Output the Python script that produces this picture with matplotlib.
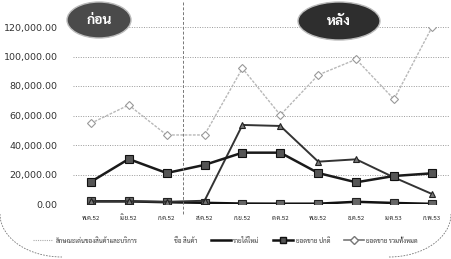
import matplotlib
matplotlib.use("Agg")
import matplotlib.pyplot as plt
from matplotlib.patches import Ellipse, Arc
from matplotlib.ticker import FuncFormatter
import matplotlib.lines as mlines

THAI = ["Sarabun", "Noto Sans Thai", "Bai Jamjuree", "DejaVu Sans"]
plt.rcParams["font.family"] = THAI

# months (Thai abbreviations)
months = ["พ.ค.52", "มิ.ย.52", "ก.ค.52", "ส.ค.52", "ก.ย.52",
          "ต.ค.52", "พ.ย.52", "ธ.ค.52", "ม.ค.53", "ก.พ.53"]

# series values
total_sales = [54700, 67100, 46800, 46800, 92000, 60300, 87500, 98100, 71000, 119800]
normal_sales = [15000, 30500, 21000, 26500, 34800, 34800, 21000, 14700, 19000, 20800]
new_income = [1800, 1800, 1500, 2200, 53600, 52900, 28700, 30300, 18000, 6800]
other_cost = [1800, 1800, 1200, 800, 300, 200, 200, 1500, 700, 100]

legend_names = ["ลักษณะเด่นของสินค้าและบริการ", "ชื่อ สินค้า",
                "รายได้ใหม่", "ยอดขาย ปกติ", "ยอดขาย รวมทั้งหมด"]
yticks = [0, 20000, 40000, 60000, 80000, 100000, 120000]

fig = plt.figure(figsize=(4.51, 2.59), dpi=100)
W, H = 451.0, 259.0
ax = fig.add_axes([73 / W, 1 - 204 / H, 376 / W, 177 / H])
x = range(len(months))

ax.plot(x, total_sales, color="#b8b8b8", lw=1.0, ls=(0, (2, 1)),
        marker="D", ms=4, mfc="white", mec="#999999", mew=0.8, zorder=3)
ax.plot(x, other_cost, color="#111111", lw=1.8,
        marker="s", ms=6, mfc="#666666", mec="#222222", mew=0.8, zorder=4)
ax.plot(x, new_income, color="#333333", lw=1.4,
        marker="^", ms=5, mfc="#777777", mec="#222222", mew=0.8, zorder=5)
ax.plot(x, normal_sales, color="#1a1a1a", lw=1.8,
        marker="s", ms=6, mfc="#555555", mec="#111111", mew=0.8, zorder=6)

ax.set_xlim(-0.47, 9.45)
ax.set_ylim(0, 120000)
ax.set_yticks(yticks)
ax.yaxis.set_major_formatter(FuncFormatter(lambda v, p: f"{v:,.2f}"))
ax.set_xticks(list(x))
ax.set_xticklabels(months, fontsize=4.5, color="#222222", va="baseline")
for lab in ax.get_yticklabels():
    lab.set_family("DejaVu Sans")
    lab.set_fontsize(6.8)
    lab.set_color("#333333")
ax.tick_params(axis="y", length=0, pad=11)
ax.tick_params(axis="x", length=0, pad=11.5)
ax.grid(axis="y", color="#999999", ls=(0, (1, 1.5)), lw=0.7)
for s in ax.spines.values():
    s.set_visible(False)

# before / after divider
fig.add_artist(mlines.Line2D([183 / W, 183 / W], [1 - 2 / H, 1 - 214 / H],
                             color="#777777", lw=0.7, ls=(0, (3, 2))))

# badges
for cx, cy, w, h, fc, txt in [(99, 20, 64, 36, "#4a4a4a", "ก่อน"),
                              (339, 21, 82, 38, "#2e2e2e", "หลัง")]:
    e = Ellipse((cx / W, 1 - cy / H), w / W, h / H, transform=fig.transFigure,
                facecolor=fc, edgecolor="#bbbbbb", lw=1.0, zorder=10)
    fig.add_artist(e)
    fig.text(cx / W, 1 - cy / H, txt, ha="center", va="center",
             color="white", fontsize=10, fontweight="bold", zorder=11)

# rounded corners of the chart area
fig.add_artist(Arc((62 / W, 1 - 214 / H), 124 / W, 86 / H, theta1=180, theta2=270,
                   transform=fig.transFigure, color="#777777", lw=0.6, ls=(0, (2, 1.5))))
fig.add_artist(Arc((389 / W, 1 - 214 / H), 124 / W, 86 / H, theta1=270, theta2=360,
                   transform=fig.transFigure, color="#777777", lw=0.6, ls=(0, (2, 1.5))))

# legend
handles = [
    mlines.Line2D([], [], color="#aaaaaa", lw=0.8, ls=(0, (1, 1))),
    mlines.Line2D([], [], color="white", lw=0),
    mlines.Line2D([], [], color="#111111", lw=1.8),
    mlines.Line2D([], [], color="#111111", lw=1.8, marker="s", ms=5, mfc="#555555"),
    mlines.Line2D([], [], color="#777777", lw=1.2, marker="D", ms=4, mfc="white", mec="#777777"),
]
fig.legend(handles, legend_names, loc="center", bbox_to_anchor=(0.5, 1 - 240 / H),
           ncol=5, fontsize=4.5, frameon=False, handlelength=3.2,
           columnspacing=2.2, handletextpad=0.4, labelcolor="#333333")

fig.savefig("out.png", dpi=100)
